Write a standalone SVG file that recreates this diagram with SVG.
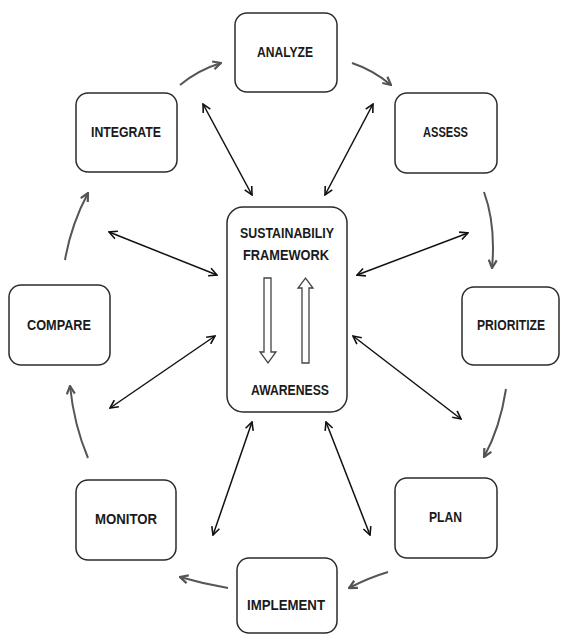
<svg xmlns="http://www.w3.org/2000/svg" width="561" height="635" viewBox="0 0 561 635">
  <style>
    .box { fill: #ffffff; stroke: #2b2b2b; stroke-width: 1.5; }
    .lbl { font-family: "Liberation Sans", Arial, sans-serif; font-weight: bold; font-size: 14px; fill: #1a1a1a; text-anchor: middle; dominant-baseline: central; }
    .link { fill: none; stroke: #111111; stroke-width: 1.5; marker-start: url(#tip); marker-end: url(#tip); }
    .cycle { fill: none; stroke: #555555; stroke-width: 2; marker-end: url(#ctip); }
    .hollow { fill: #ffffff; stroke: #444444; stroke-width: 1.3; }
  </style>
  <defs>
    <marker id="tip" viewBox="0 0 10 10" refX="9" refY="5" markerWidth="10" markerHeight="10" markerUnits="userSpaceOnUse" orient="auto-start-reverse">
      <path d="M1,1 L9,5 L1,9" fill="none" stroke="#111111" stroke-width="1.6"/>
    </marker>
    <marker id="ctip" viewBox="0 0 10 10" refX="9" refY="5" markerWidth="10" markerHeight="10" markerUnits="userSpaceOnUse" orient="auto">
      <path d="M1,1 L9,5 L1,9" fill="none" stroke="#555555" stroke-width="2.2"/>
    </marker>
  </defs>

  <!-- connectors -->
  <g id="connectors">
    <!-- spokes between the framework and each stage -->
    <line class="link" x1="203" y1="104" x2="252" y2="195"/>
    <line class="link" x1="373" y1="104" x2="325" y2="195"/>
    <line class="link" x1="109" y1="232" x2="217" y2="275"/>
    <line class="link" x1="110" y1="408" x2="215" y2="336"/>
    <line class="link" x1="468" y1="233" x2="357" y2="275"/>
    <line class="link" x1="461" y1="419" x2="353" y2="336"/>
    <line class="link" x1="252" y1="422" x2="213" y2="535"/>
    <line class="link" x1="326" y1="422" x2="370" y2="535"/>
    <!-- clockwise cycle -->
    <path class="cycle" d="M180,85 Q198,70 221,63"/>
    <path class="cycle" d="M352,63 Q373,70 391,85"/>
    <path class="cycle" d="M484,192 Q496,225 492,268"/>
    <path class="cycle" d="M506,389 Q500,428 484,457"/>
    <path class="cycle" d="M388,572 Q368,578 349,588"/>
    <path class="cycle" d="M228,588 Q204,584 180,577"/>
    <path class="cycle" d="M88,458 Q74,425 70,386"/>
    <path class="cycle" d="M65,260 Q71,225 88,193"/>
  </g>

  <g id="framework">
    <rect class="box" x="227" y="207" width="120" height="205" rx="16"/>
    <text class="lbl" x="287" y="233" textLength="94" lengthAdjust="spacingAndGlyphs">SUSTAINABILIY</text>
    <text class="lbl" x="286" y="255" textLength="86" lengthAdjust="spacingAndGlyphs">FRAMEWORK</text>
    <polygon class="hollow" points="264,278 271,278 271,352 276,352 268,363 260,352 264,352"/>
    <polygon class="hollow" points="302,363 309,363 309,288 313,288 305.5,278 298,288 302,288"/>
    <text class="lbl" x="290" y="390" textLength="78" lengthAdjust="spacingAndGlyphs">AWARENESS</text>
  </g>

  <g id="analyze">
    <rect class="box" x="235" y="13" width="102" height="79" rx="12"/>
    <text class="lbl" x="285" y="52" textLength="56" lengthAdjust="spacingAndGlyphs">ANALYZE</text>
  </g>
  <g id="assess">
    <rect class="box" x="395" y="93" width="102" height="80" rx="12"/>
    <text class="lbl" x="445.5" y="132" textLength="45" lengthAdjust="spacingAndGlyphs">ASSESS</text>
  </g>
  <g id="prioritize">
    <rect class="box" x="462" y="287" width="97" height="78" rx="12"/>
    <text class="lbl" x="511" y="325" textLength="68" lengthAdjust="spacingAndGlyphs">PRIORITIZE</text>
  </g>
  <g id="plan">
    <rect class="box" x="395" y="478" width="102" height="80" rx="12"/>
    <text class="lbl" x="445.5" y="517" textLength="33" lengthAdjust="spacingAndGlyphs">PLAN</text>
  </g>
  <g id="implement">
    <rect class="box" x="237" y="558" width="100" height="75" rx="12"/>
    <text class="lbl" x="286" y="605" textLength="78" lengthAdjust="spacingAndGlyphs">IMPLEMENT</text>
  </g>
  <g id="monitor">
    <rect class="box" x="76" y="480" width="100" height="80" rx="12"/>
    <text class="lbl" x="126" y="519" textLength="62" lengthAdjust="spacingAndGlyphs">MONITOR</text>
  </g>
  <g id="compare">
    <rect class="box" x="9" y="285" width="101" height="80" rx="12"/>
    <text class="lbl" x="59" y="325" textLength="64" lengthAdjust="spacingAndGlyphs">COMPARE</text>
  </g>
  <g id="integrate">
    <rect class="box" x="76" y="93" width="101" height="79" rx="12"/>
    <text class="lbl" x="126" y="132" textLength="70" lengthAdjust="spacingAndGlyphs">INTEGRATE</text>
  </g>
</svg>
